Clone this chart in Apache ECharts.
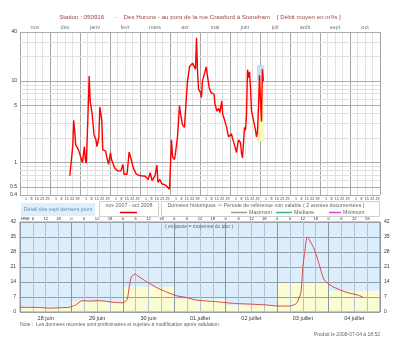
<!DOCTYPE html>
<html><head><meta charset="utf-8">
<script src="https://cdn.jsdelivr.net/npm/echarts@6/dist/echarts.min.js"></script>
<style>html,body{margin:0;padding:0;background:#fff}#c{width:400px;height:343px}</style>
</head><body><div id="c"></div>
<script>
// ---------- DATA ----------
const monthLabels = ['nov','déc','janv','févr','mars','avr','mai','juin','juil','août','sept','oct'];
const weekDayLabels = ['1','8','15','22','29'];
const topLogTicks = [0.4, 0.5, 1, 5, 10, 40];
const topMinorGrid = [0.6, 0.7, 0.8, 0.9, 2, 3, 4, 6, 7, 8, 9, 20, 30];

const topDates = [
 '2007-12-21','2007-12-23','2007-12-24','2007-12-25','2007-12-26','2007-12-27','2007-12-30',
 '2008-01-02','2008-01-03','2008-01-05','2008-01-06','2008-01-07','2008-01-08','2008-01-10','2008-01-11',
 '2008-01-13','2008-01-15','2008-01-17','2008-01-18','2008-01-20','2008-01-21','2008-01-23','2008-01-24',
 '2008-01-27','2008-01-28','2008-01-30',
 '2008-02-01','2008-02-02','2008-02-05','2008-02-08','2008-02-11','2008-02-13','2008-02-14','2008-02-17',
 '2008-02-19','2008-02-21','2008-02-23','2008-02-26','2008-02-28',
 '2008-03-02','2008-03-04','2008-03-06','2008-03-09','2008-03-11','2008-03-13','2008-03-16','2008-03-18',
 '2008-03-19','2008-03-21','2008-03-23','2008-03-25','2008-03-27','2008-03-29','2008-03-31',
 '2008-04-02','2008-04-03','2008-04-05','2008-04-06','2008-04-08','2008-04-10','2008-04-11','2008-04-13',
 '2008-04-15','2008-04-16','2008-04-18','2008-04-20','2008-04-23','2008-04-25','2008-04-26','2008-04-27',
 '2008-04-28','2008-04-29',
 '2008-05-01','2008-05-02','2008-05-03','2008-05-05','2008-05-07','2008-05-08','2008-05-10','2008-05-12',
 '2008-05-14','2008-05-15','2008-05-16','2008-05-18','2008-05-20','2008-05-21','2008-05-23','2008-05-24',
 '2008-05-26','2008-05-28','2008-05-30','2008-05-31',
 '2008-06-02','2008-06-03','2008-06-05','2008-06-07','2008-06-08','2008-06-09','2008-06-11','2008-06-12',
 '2008-06-13','2008-06-15','2008-06-16','2008-06-17','2008-06-18','2008-06-19','2008-06-20','2008-06-21',
 '2008-06-22','2008-06-24','2008-06-26','2008-06-27','2008-06-28','2008-06-29','2008-06-30',
 '2008-07-01','2008-07-02','2008-07-03','2008-07-04'
];
const topFlows = [
 0.69,0.68,1.6,3.3,2.5,1.65,1.43,
 1.09,1.0,1.57,1.09,0.98,2.07,11.5,5.7,
 4.0,2.2,1.9,1.57,2.07,4.8,3.3,1.43,
 1.38,1.19,0.95,
 1.32,1.09,0.86,0.79,0.79,0.95,0.72,0.72,
 1.35,1.09,0.86,0.72,0.70,
 0.69,0.72,0.68,0.62,0.75,0.60,0.69,0.93,
 0.57,0.62,0.55,0.58,0.53,0.51,0.47,
 1.9,1.19,1.09,1.32,2.07,5.0,4.0,2.9,
 2.7,4.3,10,15,16.6,17.4,14,34,
 13.5,8,
 7.2,6.3,10,10,15,12,8.3,7.2,
 6.9,6.9,5.2,4.3,4.6,4.1,5.7,3.9,
 3.3,2.7,2.07,2.15,
 2.25,1.98,1.65,1.33,1.36,1.9,1.75,1.3,
 1.14,2.7,2.5,3.9,13.8,11,13,8.3,
 4.3,3.3,2.5,2.07,2.4,4.8,11.8,
 5.9,3.2,14,9.9
];
const weekBoxDates = ['2008-06-28', '2008-07-04'];
const weekBoxUpper = [9.5, 15.7];
const weekBoxLower = [1.8, 9.5];

const detailDays = ['28 juin','29 juin','30 juin','01 juillet','02 juillet','03 juillet','04 juillet'];
const detailDailyMeans = [2.4, 4.8, 11.8, 5.9, 3.2, 14, 9.9];
const detailHours = [0,9,14,19,23,26,29,33,37,40,44,48,50,51,52,54,55,59,64,68,73,78,82,92,100,107,115,120,126,129,131,132,133,134,137,139,140,142,146,152,158,160];
const detailFlows = [2.2,2.1,1.8,2.0,2.2,3.3,5.3,5.1,5.3,5.0,4.5,4.3,5.9,11.8,16.5,17.7,16.8,14.2,11.3,9.5,7.6,6.7,5.6,4.8,4.0,3.7,3.3,2.8,2.8,4.0,8.7,21,29,35,30,24.3,21,14.9,11.8,9.3,7.8,7.0];
const detailYTicks = [0, 7, 14, 21, 28, 35, 42];
const hourOfDayLabels = ['0', '6', '12', '18'];

// ---------- HELPERS ----------
function monthIdx(y, m) { return (y - 2007) * 12 + (m - 11); }
function dayPos(s, f) {
  const p = s.split('-').map(Number);
  const n = new Date(p[0], p[1], 0).getDate();
  return monthIdx(p[0], p[1]) + (p[2] - 1 + f) / n;
}
const topLine = topDates.map((d, i) => [dayPos(d, 0.5), topFlows[i]]);
const boxX0 = dayPos(weekBoxDates[0], 0), boxX1 = dayPos(weekBoxDates[1], 1);

const weekLabelMap = {};
const weekLabelPos = [];
monthLabels.forEach((m, mi) => weekDayLabels.forEach((w, k) => {
  const v = +(mi + 0.2 + k * 0.18).toFixed(3);
  weekLabelPos.push(v); weekLabelMap[v.toFixed(3)] = w;
}));

const nDays = detailDays.length, hMax = nDays * 24;
const dayCenters = detailDays.map((d, i) => i * 24 + 12);
const hourTicks = [];
for (let h = 6; h < hMax; h += 6) hourTicks.push(h);

const FONT = 'Liberation Sans, Arial, sans-serif';
const lblStyle = { fontSize: 5, color: '#333', fontFamily: FONT };

const chart = echarts.init(document.getElementById('c'), null, { width: 400, height: 343 });
chart.setOption({
  animation: false,
  backgroundColor: '#fff',
  textStyle: { fontFamily: FONT },
  title: {
    text: 'Station : 050916      -    Des Hurons - au pont de la rue Crawford à Stoneham    [ Débit moyen en m³/s ]',
    left: 'center', top: 14, padding: 0,
    textStyle: { fontSize: 6.2, fontWeight: 'normal', color: '#9a4848', fontFamily: FONT }
  },
  grid: [
    { left: 20, right: 20, top: 32, height: 163, show: false },
    { left: 20, right: 20, top: 222, height: 90, show: true, borderColor: '#8c96a0', backgroundColor: 'transparent' }
  ],
  xAxis: [
    { type: 'value', gridIndex: 0, min: 0, max: 12, interval: 1,
      axisLine: { show: false }, axisTick: { show: false },
      axisLabel: { customValues: weekLabelPos, formatter: v => weekLabelMap[(+v).toFixed(3)] || '', fontSize: 3.6, color: '#333', margin: 2 },
      splitLine: { show: true, lineStyle: { color: '#a4a4a4', width: 1 } },
      minorTick: { show: false, splitNumber: 4 },
      minorSplitLine: { show: true, lineStyle: { color: '#e2e2e2', width: 1 } } },
    { type: 'category', gridIndex: 0, position: 'top', data: monthLabels, boundaryGap: true,
      axisLine: { show: false }, axisTick: { show: false }, splitLine: { show: false },
      axisLabel: { interval: 0, fontSize: 5.5, color: '#777', margin: 2 } },
    { type: 'value', gridIndex: 1, min: 0, max: hMax, interval: 24,
      axisLine: { show: false }, axisTick: { show: false },
      axisLabel: { customValues: dayCenters, formatter: v => detailDays[Math.floor(v / 24)], fontSize: 5.5, color: '#333', margin: 3 },
      splitLine: { show: true, lineStyle: { color: '#8c96a0', width: 1 } },
      minorTick: { show: false, splitNumber: 4 },
      minorSplitLine: { show: true, lineStyle: { color: '#b3c3d3', width: 1 } } },
    { type: 'value', gridIndex: 1, position: 'top', min: 0, max: hMax, interval: 6,
      axisLine: { show: false }, axisTick: { show: false }, splitLine: { show: false },
      axisLabel: { customValues: hourTicks, formatter: v => hourOfDayLabels[Math.round(v / 6) % 4], fontSize: 4.2, color: '#333', margin: 1 } }
  ],
  yAxis: [
    { type: 'log', logBase: 10, gridIndex: 0, min: 0.4, max: 40,
      axisLine: { show: false }, axisTick: { show: false }, splitLine: { show: false }, axisLabel: { show: false } },
    { type: 'value', gridIndex: 1, min: 0, max: 42, interval: 7,
      axisLine: { show: false }, axisTick: { show: false },
      splitLine: { show: true, lineStyle: { color: '#96a0aa' } },
      axisLabel: Object.assign({ margin: 4 }, lblStyle) },
    { type: 'value', gridIndex: 1, position: 'right', min: 0, max: 42, interval: 7,
      axisLine: { show: false }, axisTick: { show: false }, splitLine: { show: false },
      axisLabel: Object.assign({ margin: 4 }, lblStyle) }
  ],
  series: [
    // horizontal log grid + left labels
    { type: 'line', xAxisIndex: 0, yAxisIndex: 0, data: [], silent: true,
      markLine: { silent: true, symbol: ['none', 'none'], z: 0.5, animation: false,
        label: { show: false },
        data: topMinorGrid.map(v => ({ yAxis: v, lineStyle: { color: '#e0e0e0', width: 1, type: 'solid' } }))
          .concat(topLogTicks.map(v => ({ yAxis: v, lineStyle: { color: '#acacac', width: 1, type: 'solid' },
            label: Object.assign({ show: true, position: 'start', distance: 3, formatter: String(v) }, lblStyle) }))) } },
    // right labels
    { type: 'line', xAxisIndex: 0, yAxisIndex: 0, data: [], silent: true,
      markLine: { silent: true, symbol: ['none', 'none'], z: 0.5, animation: false,
        data: topLogTicks.map(v => ({ yAxis: v, lineStyle: { opacity: 0 },
            label: Object.assign({ show: true, position: 'end', distance: 3, formatter: String(v) }, lblStyle) })) } },
    // last-week highlight box
    { type: 'line', xAxisIndex: 0, yAxisIndex: 0, data: [], silent: true,
      markArea: { silent: true, z: 1,
        data: [
          [{ xAxis: boxX0, yAxis: weekBoxUpper[0], itemStyle: { color: '#c4dcf2' } }, { xAxis: boxX1, yAxis: weekBoxUpper[1] }],
          [{ xAxis: boxX0, yAxis: weekBoxLower[0], itemStyle: { color: '#fbf7b4' } }, { xAxis: boxX1, yAxis: weekBoxLower[1] }]
        ] } },
    // main annual series
    { type: 'line', xAxisIndex: 0, yAxisIndex: 0, z: 3, data: topLine, symbol: 'none',
      lineStyle: { color: '#ff0000', width: 1.4 } },
    // detail background
    { type: 'line', xAxisIndex: 2, yAxisIndex: 1, data: [], silent: true,
      markArea: { silent: true, z: -2, itemStyle: { color: '#dcedfc' },
        data: [[{ xAxis: 0, yAxis: 0 }, { xAxis: hMax, yAxis: detailYTicks[detailYTicks.length - 1] }]] } },
    // daily means (yellow)
    { type: 'line', xAxisIndex: 2, yAxisIndex: 1, data: [], silent: true,
      markArea: { silent: true, z: -1, itemStyle: { color: '#fcfcd2' },
        data: detailDailyMeans.map((m, i) => [{ xAxis: i * 24, yAxis: 0 }, { xAxis: (i + 1) * 24, yAxis: m }]) } },
    // hourly
    { type: 'line', xAxisIndex: 2, yAxisIndex: 1, z: 3, smooth: 0.2, symbol: 'none',
      data: detailHours.map((h, i) => [h, detailFlows[i]]),
      lineStyle: { color: '#d24a4a', width: 1 } }
  ],
  graphic: [
    { type: 'rect', shape: { x: 21, y: 203, width: 74, height: 13 }, style: { fill: '#dfeefb' } },
    { type: 'text', x: 58, y: 209.5, style: { text: 'Détail des sept derniers jours', fontSize: 5.3, fontFamily: FONT, fill: '#6a8fb5', align: 'center', verticalAlign: 'middle' } },
    { type: 'rect', shape: { x: 99.5, y: 201.5, width: 59, height: 15 }, style: { fill: '#fff', stroke: '#cfcfcf', lineWidth: 1 } },
    { type: 'text', x: 129, y: 206, style: { text: 'nov 2007 - oct 2008', fontSize: 5.3, fontFamily: FONT, fill: '#666', align: 'center', verticalAlign: 'middle' } },
    { type: 'line', shape: { x1: 120, y1: 212.5, x2: 137, y2: 212.5 }, style: { stroke: '#e00000', lineWidth: 1.5 } },
    { type: 'rect', shape: { x: 161.5, y: 201.5, width: 218, height: 15 }, style: { fill: '#fff', stroke: '#cfcfcf', lineWidth: 1 } },
    { type: 'text', x: 266, y: 206, style: { text: 'Données historiques -> Période de référence non valable ( 2 années documentées )', fontSize: 5.3, fontFamily: FONT, fill: '#666', align: 'center', verticalAlign: 'middle' } },
    { type: 'line', shape: { x1: 231, y1: 212.5, x2: 247, y2: 212.5 }, style: { stroke: '#999', lineWidth: 1.5 } },
    { type: 'text', x: 249, y: 212.5, style: { text: 'Maximum', fontSize: 5.3, fontFamily: FONT, fill: '#666', align: 'left', verticalAlign: 'middle' } },
    { type: 'line', shape: { x1: 276, y1: 212.5, x2: 292, y2: 212.5 }, style: { stroke: '#3cb08a', lineWidth: 1.5 } },
    { type: 'text', x: 294, y: 212.5, style: { text: 'Médiane', fontSize: 5.3, fontFamily: FONT, fill: '#666', align: 'left', verticalAlign: 'middle' } },
    { type: 'line', shape: { x1: 329, y1: 212.5, x2: 341, y2: 212.5 }, style: { stroke: '#e040e0', lineWidth: 1.5 } },
    { type: 'text', x: 343, y: 212.5, style: { text: 'Minimum', fontSize: 5.3, fontFamily: FONT, fill: '#666', align: 'left', verticalAlign: 'middle' } },
    { type: 'text', x: 21, y: 219, style: { text: 'HNE', fontSize: 4.2, fontFamily: FONT, fill: '#333', align: 'left', verticalAlign: 'middle' } },
    { type: 'text', x: 199, y: 227, z: 5, style: { text: '( en jaune = moyenne du jour )', fontSize: 5, fontFamily: FONT, fill: '#666', align: 'center', verticalAlign: 'middle' } },
    { type: 'text', x: 20, y: 325, style: { text: 'Note :  Les données récentes sont préliminaires et sujettes à modification après validation.', fontSize: 5, fontFamily: FONT, fill: '#666', align: 'left', verticalAlign: 'middle' } },
    { type: 'text', x: 380, y: 335, style: { text: 'Produit le 2008-07-04 à 18:52', fontSize: 5, fontFamily: FONT, fill: '#666', align: 'right', verticalAlign: 'middle' } }
  ]
});
</script>
</body></html>
